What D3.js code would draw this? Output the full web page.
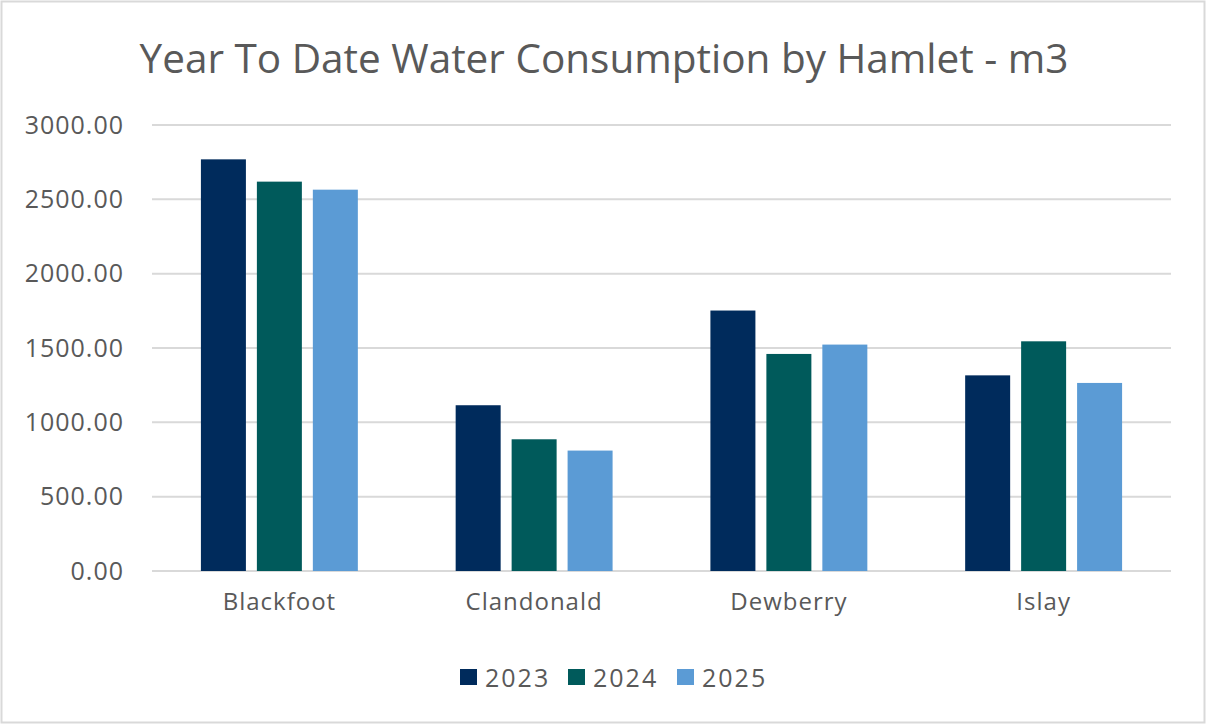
<!DOCTYPE html>
<html>
<head>
<meta charset="utf-8">
<script src="https://cdn.jsdelivr.net/npm/d3@7"></script>
<style>
  body { margin: 0; background: #fff; }
  svg text { font-family: "Open Sans", sans-serif; fill: #595959; }
</style>
</head>
<body>
<div id="chart"></div>
<script>
// data
const hamlets = ["Blackfoot", "Clandonald", "Dewberry", "Islay"];
const years = ["2023", "2024", "2025"];
const v2023 = [2769, 1115, 1752, 1316];
const v2024 = [2619, 886, 1460, 1545];
const v2025 = [2565, 810, 1523, 1265];
const yTicks = [0, 500, 1000, 1500, 2000, 2500, 3000];
const colors = ["#002b5c", "#005a5b", "#5b9bd5"];

const W = 1206, H = 725;
const margin = {top: 125, right: 35, bottom: 154, left: 152};
const width = W - margin.left - margin.right,
    height = H - margin.top - margin.bottom;

const svg = d3.select("#chart").append("svg")
    .attr("width", W)
    .attr("height", H);

// chart frame
svg.append("rect")
    .attr("x", 1.5).attr("y", 1.5)
    .attr("width", W - 3).attr("height", H - 4)
    .attr("fill", "#fff")
    .attr("stroke", "#d9d9d9")
    .attr("stroke-width", 2);

// title, fitted to the width it has in the picture
const title = svg.append("text")
    .attr("x", 604).attr("y", 73)
    .attr("text-anchor", "middle")
    .attr("font-size", "36px")
    .text("Year To Date Water Consumption by Hamlet - m3");
const tw = title.node().getComputedTextLength();
title.attr("font-size", (36 * 928 / tw).toFixed(1) + "px");

const g = svg.append("g")
    .attr("transform", `translate(${margin.left},${margin.top})`);

const data = hamlets.map((h, i) => ({hamlet: h, values: [v2023[i], v2024[i], v2025[i]]}));

const x = d3.scaleBand()
    .domain(hamlets)
    .range([0, width])
    .paddingInner(0.384)
    .paddingOuter(0.192);

const xSub = d3.scaleBand()
    .domain(years)
    .range([0, x.bandwidth()])
    .paddingInner(0.196);

const y = d3.scaleLinear()
    .domain([0, 3000])
    .range([height, 0]);

// gridlines
g.append("g")
    .selectAll("line")
    .data(yTicks)
    .join("line")
    .attr("x1", 0).attr("x2", width)
    .attr("y1", d => y(d)).attr("y2", d => y(d))
    .attr("stroke", "#d9d9d9")
    .attr("stroke-width", 2);

// y axis labels
const yAxis = g.append("g")
    .call(d3.axisLeft(y).tickValues(yTicks).tickFormat(d3.format(".2f")).tickSize(0).tickPadding(28));
yAxis.select(".domain").remove();
yAxis.selectAll("text")
    .attr("font-size", "25px")
    .attr("letter-spacing", "1px")
    .attr("fill", "#595959");

// x axis labels
const xAxis = g.append("g")
    .attr("transform", `translate(0,${height})`)
    .call(d3.axisBottom(x).tickSize(0).tickPadding(22));
xAxis.select(".domain").remove();
xAxis.selectAll("text")
    .attr("font-size", "24px")
    .attr("letter-spacing", "1px")
    .attr("fill", "#595959");

// bars
g.append("g")
    .selectAll("g")
    .data(data)
    .join("g")
    .attr("transform", d => `translate(${x(d.hamlet)},0)`)
    .selectAll("rect")
    .data(d => d.values.map((v, j) => ({key: years[j], value: v, c: colors[j]})))
    .join("rect")
    .attr("x", d => xSub(d.key))
    .attr("y", d => y(d.value))
    .attr("width", xSub.bandwidth())
    .attr("height", d => height - y(d.value))
    .attr("fill", d => d.c);

// legend
const legendX = [460, 568, 677];
const legend = svg.append("g")
    .selectAll("g")
    .data(years)
    .join("g")
    .attr("transform", (d, i) => `translate(${legendX[i]},669)`);
legend.append("rect")
    .attr("width", 17).attr("height", 16)
    .attr("fill", (d, i) => colors[i]);
legend.append("text")
    .attr("x", 25).attr("y", 8)
    .attr("dominant-baseline", "central")
    .attr("font-size", "25px")
    .attr("letter-spacing", "2px")
    .text(d => d);
</script>
</body>
</html>
